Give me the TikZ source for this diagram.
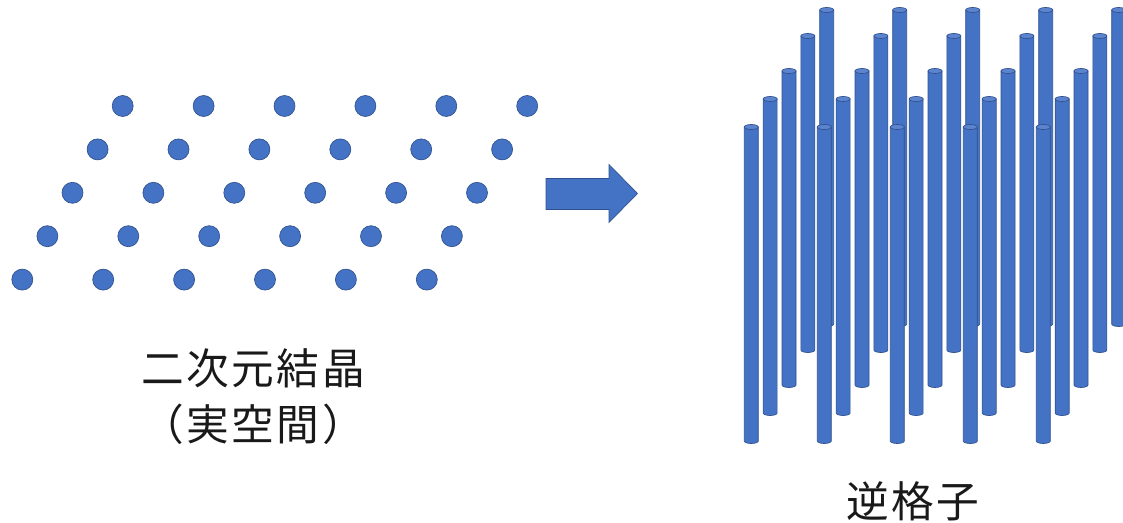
\documentclass[tikz,border=0pt]{standalone}
\usepackage{fontspec}
\usepackage{tikz}
\newfontfamily\jfont[LetterSpace=6]{Noto Sans CJK JP}
\definecolor{latticeBlue}{RGB}{68,114,196}
\definecolor{latticeEdge}{RGB}{47,82,143}
\definecolor{rodTop}{RGB}{92,132,206}

\begin{document}
\begin{tikzpicture}[x=0.75pt,y=-0.75pt,
    atom/.style={fill=latticeBlue,draw=latticeEdge,line width=0.5pt},
    rod/.style={fill=latticeBlue,draw=latticeEdge,line width=0.5pt},
    caption/.style={font=\jfont\fontsize{32}{38}\selectfont,inner sep=0pt,anchor=base,text=black!90}]

  \useasboundingbox (0,0) rectangle (1123,523);

  \def\dotStep{80.9}
  \def\rowShift{25.1}
  \def\rowStep{43.4}

  % draw the real space lattice
  \foreach \r in {0,...,4}
    \foreach \c in {0,...,5}
      \draw[atom] ({122.7-\rowShift*\r+\dotStep*\c},{106+\rowStep*\r}) circle [radius=10.5];

  % draw the arrow
  \draw[atom] (546,178.5) -- (609,178.5) -- (609,164.5) -- (637.5,193.5)
    -- (609,222.5) -- (609,209.5) -- (546,209.5) -- cycle;

  % draw the rods, back row first
  \def\rodTops{10,36,71,99,127}
  \def\rodLength{314}
  \def\rodHalf{7}
  \foreach \rt [count=\ni] in \rodTops
  {
    \pgfmathsetmacro\rowX{751.3+18.85*(5-\ni)}
    \pgfmathsetmacro\rb{\rt+\rodLength}
    \foreach \i in {0,...,4}
    {
      \pgfmathsetmacro\cx{\rowX+73*\i}
      \filldraw[rod] (\cx-\rodHalf,\rt) -- (\cx-\rodHalf,\rb)
        arc [start angle=180, end angle=0, x radius=\rodHalf, y radius=2.5]
        -- (\cx+\rodHalf,\rt) -- cycle;
      \filldraw[rod,fill=rodTop] (\cx,\rt) ellipse [x radius=\rodHalf, y radius=2.5];
    }
  }

  % captions
  \node[caption] (crystal) at (253,385) {二次元結晶};
  \node[caption] (realspace) at (253,440) {（実空間）};
  \node[caption] (reciprocal) at (913,517) {逆格子};

\end{tikzpicture}
\end{document}
